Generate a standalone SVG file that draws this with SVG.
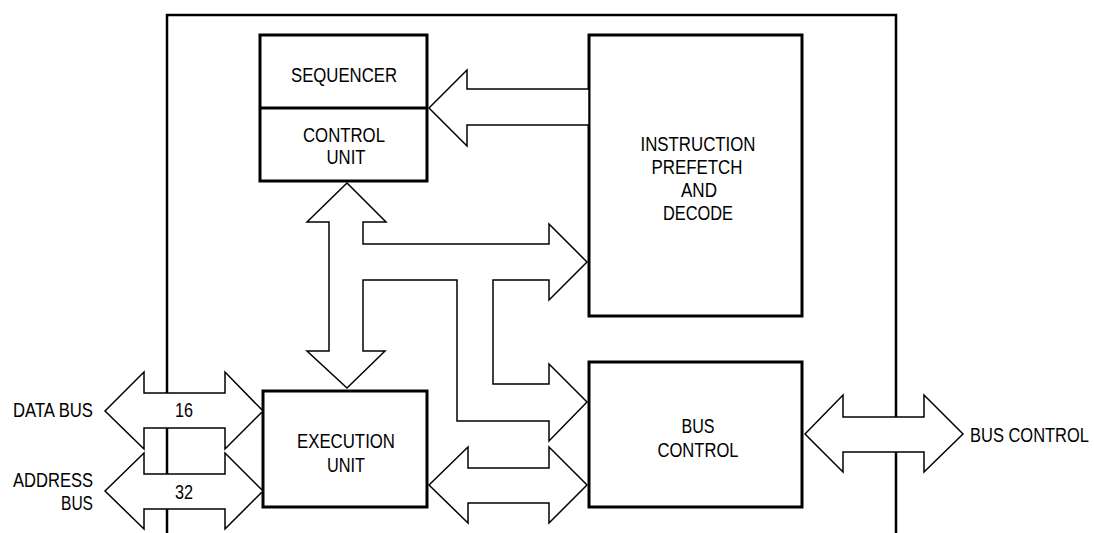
<svg xmlns="http://www.w3.org/2000/svg" width="1094" height="533" viewBox="0 0 1094 533">
<style>
.box{fill:#fff;stroke:#000;stroke-width:3}
.frame{fill:none;stroke:#000;stroke-width:2.5}
.arrow{fill:#fff;stroke:#000;stroke-width:1.5;stroke-linejoin:miter}
text{font-family:"Liberation Sans Narrow","Liberation Sans",Arial,sans-serif;font-size:20px;fill:#000}
.c{text-anchor:middle}
.e{text-anchor:end}
</style>
<rect width="1094" height="533" fill="#fff"/>
<g id="frame"><path class="frame" d="M167,533 V15 H896 V533"/></g>
<g id="sequencer-control-unit">
<rect class="box" x="260" y="35" width="167" height="146"/>
<line x1="260" y1="108" x2="427" y2="108" stroke="#000" stroke-width="3"/>
<text class="c" x="344" y="82" textLength="106" lengthAdjust="spacingAndGlyphs">SEQUENCER</text>
<text class="c" x="344" y="142" textLength="82" lengthAdjust="spacingAndGlyphs">CONTROL</text>
<text class="c" x="346" y="164" textLength="39" lengthAdjust="spacingAndGlyphs">UNIT</text>
</g>
<g id="instruction-prefetch">
<rect class="box" x="589" y="35" width="213" height="281"/>
<text class="c" x="698" y="151" textLength="115" lengthAdjust="spacingAndGlyphs">INSTRUCTION</text>
<text class="c" x="697" y="174" textLength="91" lengthAdjust="spacingAndGlyphs">PREFETCH</text>
<text class="c" x="699" y="197" textLength="36" lengthAdjust="spacingAndGlyphs">AND</text>
<text class="c" x="698" y="220" textLength="70" lengthAdjust="spacingAndGlyphs">DECODE</text>
</g>
<g id="execution-unit">
<rect class="box" x="263" y="391" width="164" height="116"/>
<text class="c" x="346" y="448" textLength="98" lengthAdjust="spacingAndGlyphs">EXECUTION</text>
<text class="c" x="346" y="472" textLength="38" lengthAdjust="spacingAndGlyphs">UNIT</text>
</g>
<g id="bus-control">
<rect class="box" x="589" y="362" width="213" height="145"/>
<text class="c" x="698" y="433" textLength="33" lengthAdjust="spacingAndGlyphs">BUS</text>
<text class="c" x="698" y="457" textLength="81" lengthAdjust="spacingAndGlyphs">CONTROL</text>
</g>
<g id="connectors">
<polygon class="arrow" points="429,108 467,70 467,89 589,89 589,125 467,125 467,146"/>
<polygon class="arrow" points="347,183 386,222 363,222 363,244 549,244 549,224 587,262 549,300 549,280 493,280 493,384 549,384 549,364 587,402 549,441 549,421 457,421 457,280 363,280 363,351 385,351 347,388 307,351 329,351 329,222 307,222"/>
<polygon class="arrow" points="429,485 468,447 468,468 549,468 549,447 587,485 549,523 549,503 468,503 468,523"/>
<polygon class="arrow" points="105,411 144,372 144,393 225,393 225,372 263,411 225,449 225,428 144,428 144,449"/>
<polygon class="arrow" points="105,491 144,453 144,474 225,474 225,453 263,491 225,529 225,509 144,509 144,529"/>
<polygon class="arrow" points="805,434 843,395 843,417 924,417 924,395 963,434 924,472 924,452 843,452 843,472"/>
<text class="c" x="184" y="417" textLength="18" lengthAdjust="spacingAndGlyphs">16</text>
<text class="c" x="184" y="499" textLength="18" lengthAdjust="spacingAndGlyphs">32</text>
</g>
<g id="labels">
<text class="e" x="93" y="417" textLength="80" lengthAdjust="spacingAndGlyphs">DATA BUS</text>
<text class="e" x="93" y="487" textLength="80" lengthAdjust="spacingAndGlyphs">ADDRESS</text>
<text class="e" x="93" y="510" textLength="32" lengthAdjust="spacingAndGlyphs">BUS</text>
<text x="970" y="442" textLength="119" lengthAdjust="spacingAndGlyphs">BUS CONTROL</text>
</g>
</svg>
